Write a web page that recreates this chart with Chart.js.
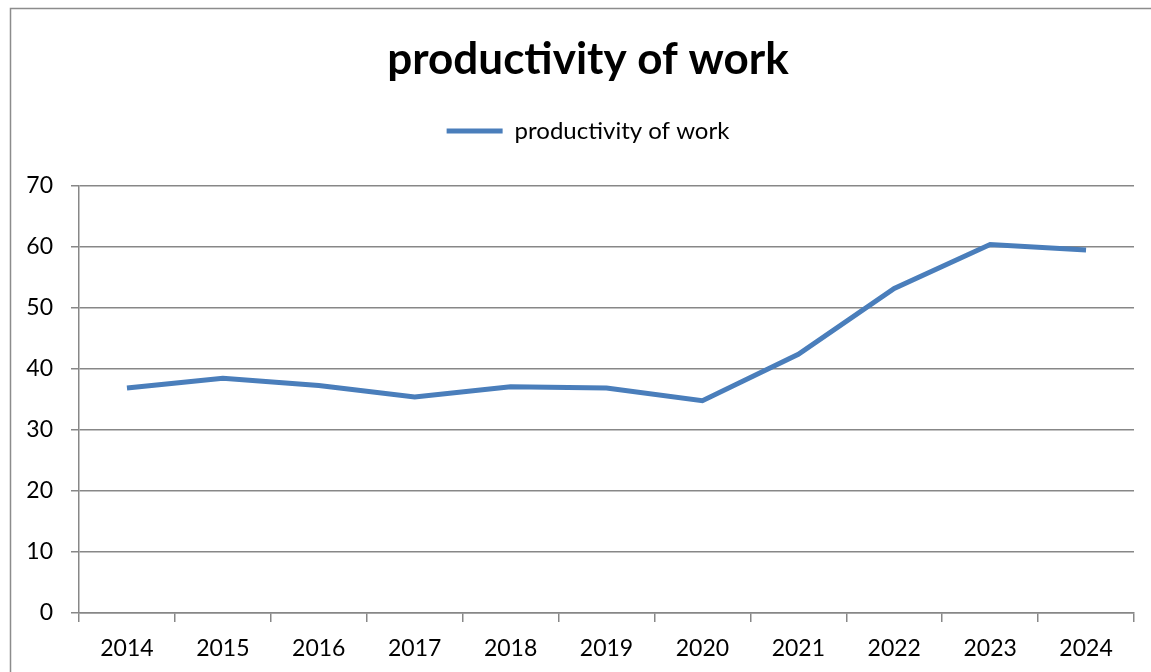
<!DOCTYPE html>
<html>
<head>
<meta charset="utf-8">
<script src="https://cdn.jsdelivr.net/npm/chart.js@4"></script>
<style>
  html, body { margin: 0; padding: 0; background: #fff; }
  #wrap { position: relative; width: 1151px; height: 672px; }
</style>
</head>
<body>
<div id="wrap"><canvas id="c" width="1151" height="672"></canvas></div>
<script>
const categories = ["2014", "2015", "2016", "2017", "2018", "2019", "2020", "2021", "2022", "2023", "2024"];
const productivity = [36.9, 38.5, 37.3, 35.4, 37.1, 36.9, 34.8, 42.4, 53.2, 60.4, 59.5];
const seriesName = "productivity of work";
const chartTitle = "productivity of work";

const FONT = "Lato, 'Open Sans', sans-serif";
const GRID = "#878787";
const LINE = "#4A7EBB";

const outerBorder = {
  id: 'outerBorder',
  beforeDraw(chart) {
    const ctx = chart.ctx;
    ctx.save();
    ctx.strokeStyle = "#8c8c8c";
    ctx.lineWidth = 1.5;
    ctx.strokeRect(10.5, 8.5, 3000, 3000);
    ctx.restore();
  }
};

// empty layout box placed between the legend and the plot area
const legendSpacer = {
  id: 'legendSpacer',
  beforeInit(chart) {
    const box = {
      position: 'top',
      weight: 0,
      fullSize: true,
      options: {},
      width: 0, height: 0, top: 0, left: 0, right: 0, bottom: 0,
      isHorizontal() { return true; },
      update(maxWidth) { this.width = maxWidth; this.height = 33; },
      draw() {}
    };
    Chart.layouts.addBox(chart, box);
  }
};

// centre title and legend on the outer frame rather than the canvas
const shiftHeader = {
  id: 'shiftHeader',
  afterLayout(chart) {
    const dx = 21;
    [chart.titleBlock, chart.legend].forEach(b => {
      if (b) { b.left += dx; b.right += dx; }
    });
  }
};

new Chart(document.getElementById('c'), {
  type: 'line',
  data: {
    labels: categories,
    datasets: [{
      label: seriesName,
      data: productivity,
      borderColor: LINE,
      backgroundColor: LINE,
      borderWidth: 5,
      pointRadius: 0,
      pointHoverRadius: 0,
      tension: 0,
      pointStyle: 'line'
    }]
  },
  options: {
    responsive: false,
    animation: false,
    devicePixelRatio: 1,
    layout: { padding: { left: 0, right: 17, top: 0, bottom: 0 } },
    plugins: {
      tooltip: { enabled: false },
      title: {
        display: true,
        text: chartTitle,
        color: '#000',
        font: { family: FONT, size: 44, weight: 'bold', lineHeight: 40 / 44 },
        padding: { top: 40, bottom: 1 }
      },
      legend: {
        display: true,
        position: 'top',
        labels: {
          color: '#000',
          font: { family: FONT, size: 24 },
          usePointStyle: true,
          pointStyleWidth: 56,
          boxHeight: 24,
          padding: 38
        }
      }
    },
    scales: {
      x: {
        type: 'category',
        offset: true,
        afterFit(scale) { scale.height = 59; },
        grid: {
          offset: true,
          drawOnChartArea: false,
          drawTicks: true,
          tickLength: 9,
          color: GRID,
          lineWidth: 1.5
        },
        border: { display: true, color: GRID, width: 1.5 },
        ticks: {
          color: '#000',
          font: { family: FONT, size: 23 },
          padding: 13,
          maxRotation: 0,
          autoSkip: false
        }
      },
      y: {
        min: 0,
        max: 70,
        afterFit(scale) { scale.width = 79; },
        grid: {
          drawOnChartArea: true,
          drawTicks: true,
          tickLength: 8,
          color: GRID,
          lineWidth: 1.5
        },
        border: { display: true, color: GRID, width: 1.5 },
        ticks: {
          stepSize: 10,
          color: '#000',
          font: { family: FONT, size: 23 },
          padding: 18
        }
      }
    }
  },
  plugins: [outerBorder, legendSpacer, shiftHeader]
});
</script>
</body>
</html>
